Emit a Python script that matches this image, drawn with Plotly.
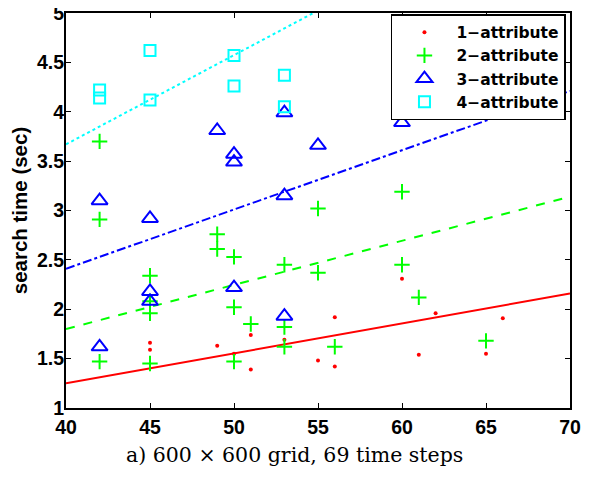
import plotly.graph_objects as go

# 1-attribute (red dots)
x1 = [45, 45, 49, 50, 51, 51, 53, 55, 56, 56, 60, 61, 62, 65, 66]
y1 = [1.66, 1.59, 1.63, 1.55, 1.74, 1.39, 1.69, 1.48, 1.92, 1.42, 2.31, 1.54, 1.96, 1.55, 1.91]
# 2-attribute (green plus)
x2 = [42, 42, 42, 45, 45, 45, 45, 49, 49, 50, 50, 50, 51, 53, 53, 53, 55, 55, 56, 60, 60, 61, 65]
y2 = [3.70, 2.91, 1.47, 2.34, 2.08, 1.96, 1.45, 2.76, 2.61, 2.53, 2.02, 1.47, 1.85, 2.45, 1.82, 1.62,
      3.02, 2.37, 1.62, 3.19, 2.45, 2.12, 1.68]
# 3-attribute (blue triangles)
x3 = [42, 42, 45, 45, 45, 49, 50, 50, 50, 53, 53, 53, 55, 60]
y3 = [3.10, 1.62, 2.92, 2.18, 2.08, 3.81, 3.57, 3.49, 2.22, 3.99, 3.15, 1.93, 3.66, 3.89]
# 4-attribute (cyan squares)
x4 = [42, 42, 45, 45, 50, 50, 53, 53]
y4 = [4.22, 4.14, 4.62, 4.12, 4.57, 4.26, 4.37, 4.05]

# fitted line end points at x = 40 and x = 70
fit_x = [40, 70]
fit1 = [1.25, 2.16]
fit2 = [1.80, 3.14]
fit3 = [2.41, 4.21]
fit4 = [3.67, 6.38]

names = ["1\u2212attribute", "2\u2212attribute", "3\u2212attribute", "4\u2212attribute"]
xticks = [40, 45, 50, 55, 60, 65, 70]
yticks = [1, 1.5, 2, 2.5, 3, 3.5, 4, 4.5, 5]
yticklabels = ["1", "1.5", "2", "2.5", "3", "3.5", "4", "4.5", "5"]

RED, GREEN, BLUE, CYAN = "#ff0000", "#00ff00", "#0000ff", "#00ffff"
FONT = "Liberation Sans"

fig = go.Figure()
fig.add_trace(go.Scatter(x=fit_x, y=fit1, mode="lines", line=dict(color=RED, width=2), showlegend=False))
fig.add_trace(go.Scatter(x=fit_x, y=fit2, mode="lines", line=dict(color=GREEN, width=2, dash="dash"), showlegend=False))
fig.add_trace(go.Scatter(x=fit_x, y=fit3, mode="lines", line=dict(color=BLUE, width=2, dash="dashdot"), showlegend=False))
fig.add_trace(go.Scatter(x=fit_x, y=fit4, mode="lines", line=dict(color=CYAN, width=2, dash="dot"), showlegend=False))

fig.add_trace(go.Scatter(x=x1, y=y1, mode="markers", name=names[0],
                         marker=dict(symbol="circle", size=4, color=RED)))
fig.add_trace(go.Scatter(x=x2, y=y2, mode="markers", name=names[1],
                         marker=dict(symbol="cross-thin-open", size=11, color=GREEN, line=dict(color=GREEN, width=2))))
fig.add_trace(go.Scatter(x=x3, y=y3, mode="markers", name=names[2],
                         marker=dict(symbol="triangle-up-open", size=14, color=BLUE, line=dict(color=BLUE, width=2))))
fig.add_trace(go.Scatter(x=x4, y=y4, mode="markers", name=names[3],
                         marker=dict(symbol="square-open", size=11, color=CYAN, line=dict(color=CYAN, width=2))))

axis_common = dict(showgrid=False, zeroline=False, showline=True, linecolor="black", linewidth=2,
                   mirror="ticks", ticks="inside", ticklen=5, tickwidth=1, tickcolor="black",
                   automargin=False, ticklabeloverflow="allow",
                   tickfont=dict(family=FONT, size=19.5, color="black", weight="bold"))
fig.update_xaxes(range=[40, 70], tickvals=xticks, ticklabelstandoff=1, **axis_common)
fig.update_yaxes(range=[1, 5], tickvals=yticks, ticktext=yticklabels, ticklabelstandoff=-4,
                 title=dict(text="search time (sec)", font=dict(family=FONT, size=20.5, color="black", weight="bold")),
                 **axis_common)

fig.update_layout(
    width=586, height=470,
    margin=dict(l=58, r=24, t=5, b=70, autoexpand=False),
    paper_bgcolor="white", plot_bgcolor="white",
    legend=dict(x=0.992, y=0.997, xanchor="right", yanchor="top", bgcolor="white",
                bordercolor="black", borderwidth=1.5, itemwidth=54,
                font=dict(family="DejaVu Sans", size=15.5, color="black", weight="bold"),
                tracegroupgap=0, itemsizing="trace"),
    annotations=[dict(text="a) 600 \u00d7 600 grid, 69 time steps", xref="paper", yref="paper",
                      x=0.454, y=-0.118, xanchor="center", yanchor="middle", showarrow=False,
                      font=dict(family="DejaVu Serif", size=20.5, color="black"))],
)

fig.write_html("out.html")
